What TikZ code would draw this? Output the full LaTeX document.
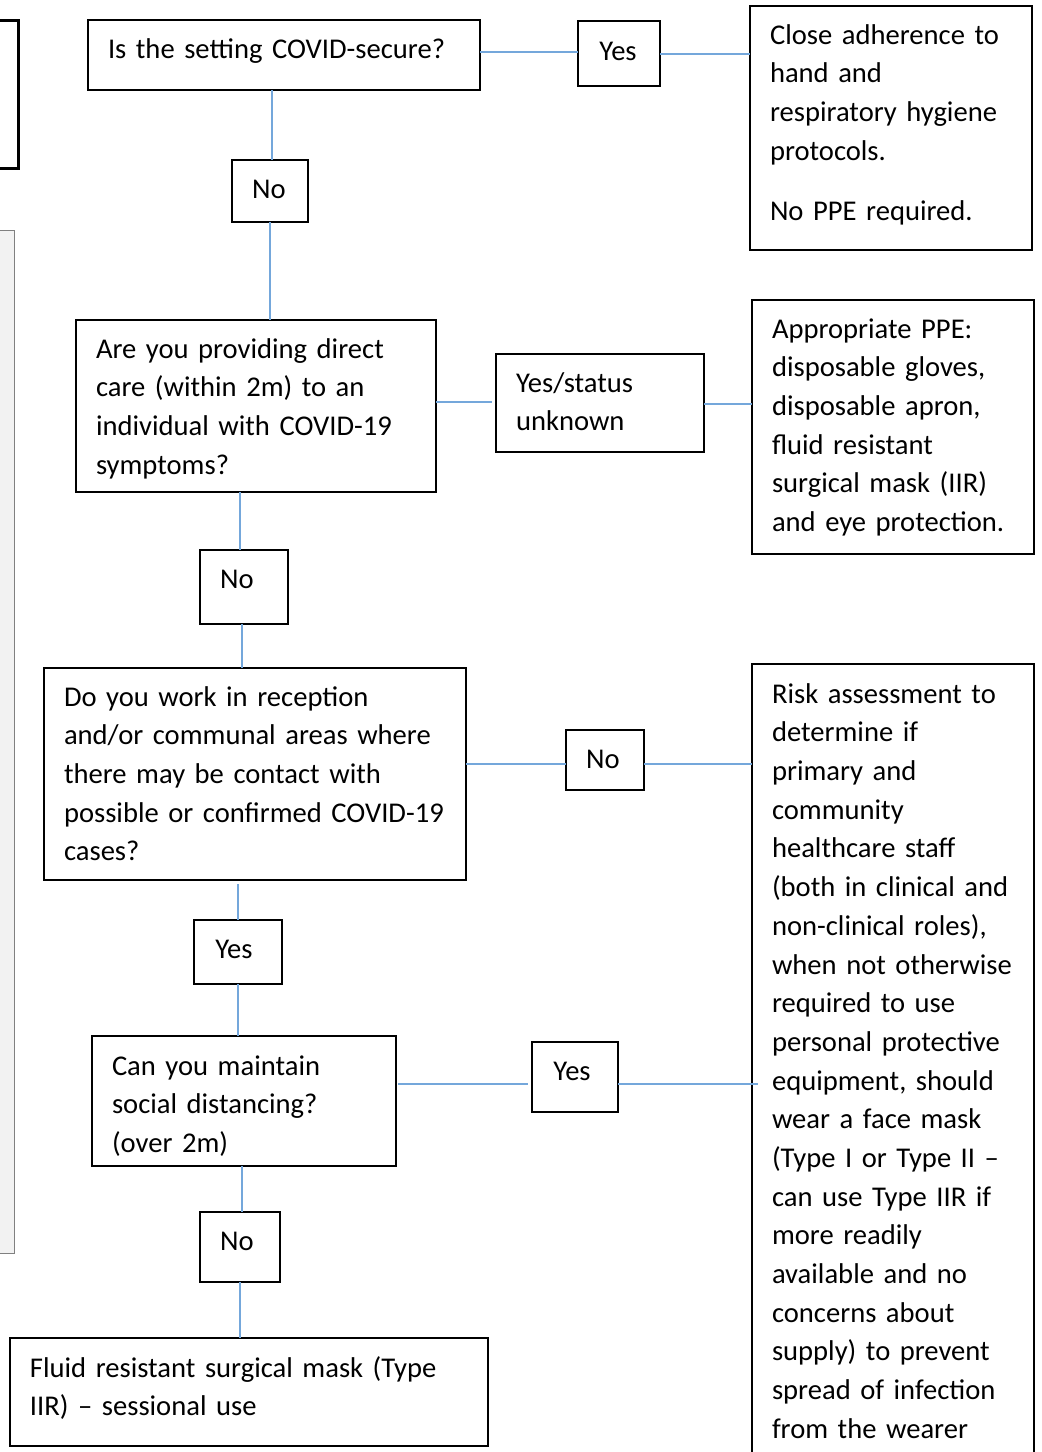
\documentclass[tikz,border=0pt]{standalone}
\usepackage{fontspec}
\setmainfont{Carlito}
\usetikzlibrary{calc}
\definecolor{conn}{HTML}{74A7DB}
\definecolor{greyfill}{HTML}{F2F2F2}
\begin{document}
\begin{tikzpicture}[x=1pt,y=-1pt,
  box/.style={draw=black, line width=1.3pt, inner sep=0pt, outer sep=0pt, anchor=north west},
  txt/.style={anchor=north west, inner sep=0pt, outer sep=0pt, align=left, font=\fontsize{28.6}{38.7}\selectfont, text width=#1},
  txt/.default=360pt,
  lbl/.style={anchor=base, inner sep=0pt, outer sep=0pt, font=\fontsize{28.6}{38.7}\selectfont},
  link/.style={draw=conn, line width=1.6pt}]
\useasboundingbox (0,0) rectangle (1042,1452);
\clip (0,0) rectangle (1042,1452);
\fill[white] (0,0) rectangle (1042,1452);
% partial shapes at left edge
\draw[line width=3pt, black] (-10,20) rectangle (18,168);
\draw[fill=greyfill, draw=gray, line width=1pt] (-10,230) rectangle (14,1253);
% boxes
\node[box, minimum width=392pt, minimum height=70pt] (q1) at (88,20) {};
\node[box, minimum width=82pt, minimum height=65pt] (yes1) at (578,21) {};
\node[box, minimum width=282pt, minimum height=244pt] (r1) at (750,6) {};
\node[box, minimum width=76pt, minimum height=62pt] (no1) at (232,160) {};
\node[box, minimum width=360pt, minimum height=172pt] (q2) at (76,320) {};
\node[box, minimum width=208pt, minimum height=98pt] (ys) at (496,354) {};
\node[box, minimum width=282pt, minimum height=254pt] (r2) at (752,300) {};
\node[box, minimum width=88pt, minimum height=74pt] (no2) at (200,550) {};
\node[box, minimum width=422pt, minimum height=212pt] (q3) at (44,668) {};
\node[box, minimum width=78pt, minimum height=60pt] (no3) at (566,730) {};
\node[box, minimum width=282pt, minimum height=840pt] (r3) at (752,664) {};
\node[box, minimum width=88pt, minimum height=64pt] (yes3) at (194,920) {};
\node[box, minimum width=304pt, minimum height=130pt] (q4) at (92,1036) {};
\node[box, minimum width=86pt, minimum height=70pt] (yes4) at (532,1042) {};
\node[box, minimum width=80pt, minimum height=70pt] (no4) at (200,1212) {};
\node[box, minimum width=478pt, minimum height=108pt] (r4) at (10,1338) {};
% texts
\node[txt] (tq1) at (108,31) {\strut Is the setting COVID-secure?};
\node[txt=280pt] (tr1) at (770,17) {\strut Close adherence to\\hand and\\respiratory hygiene\\protocols.\\[21.3pt]No PPE required.};
\node[txt] (tq2) at (96,331) {\strut Are you providing direct\\care (within 2m) to an\\individual with COVID-19\\symptoms?};
\node[txt=200pt] (tys) at (516,365) {\strut Yes/status\\unknown};
\node[txt=280pt] (tr2) at (772,311) {\strut Appropriate PPE:\\disposable gloves,\\disposable apron,\\fluid resistant\\surgical mask (IIR)\\and eye protection.};
\node[txt=420pt] (tq3) at (64,679) {\strut Do you work in reception\\and/or communal areas where\\there may be contact with\\possible or confirmed COVID-19\\cases?};
\node[txt=280pt] (tr3) at (772,676) {\strut Risk assessment to\\determine if\\primary and\\community\\healthcare staff\\(both in clinical and\\non-clinical roles),\\when not otherwise\\required to use\\personal protective\\equipment, should\\wear a face mask\\(Type I or Type II --\\can use Type IIR if\\more readily\\available and no\\concerns about\\supply) to prevent\\spread of infection\\from the wearer};
\node[txt=290pt] (tq4) at (112,1048) {\strut Can you maintain\\social distancing?\\(over 2m)};
\node[txt=460pt] (tr4) at (30,1350) {\strut Fluid resistant surgical mask (Type\\IIR) -- sessional use};
\node[lbl] (tyes1) at (618,60) {Yes};
\node[lbl] (tno1) at (269,198) {No};
\node[lbl] (tno2) at (237,588) {No};
\node[lbl] (tno3) at (603,768) {No};
\node[lbl] (tyes3) at (234,958) {Yes};
\node[lbl] (tyes4) at (572,1080) {Yes};
\node[lbl] (tno4) at (237,1250) {No};
% connectors
\draw[link] (q1.east |- 0,52) -- (yes1.west |- 0,52);
\draw[link] (yes1.east |- 0,54) -- (r1.west |- 0,54);
\draw[link] (q1.south -| 272,0) -- (no1.north -| 272,0);
\draw[link] (no1.south -| 270,0) -- (q2.north -| 270,0);
\draw[link] (q2.east |- 0,402) -- ($(ys.west |- 0,402)+(-4,0)$);
\draw[link] (ys.east |- 0,404) -- (r2.west |- 0,404);
\draw[link] (q2.south -| 240,0) -- (no2.north -| 240,0);
\draw[link] (no2.south -| 242,0) -- (q3.north -| 242,0);
\draw[link] (q3.east |- 0,764) -- (no3.west |- 0,764);
\draw[link] (no3.east |- 0,764) -- (r3.west |- 0,764);
\draw[link] ($(q3.south -| 238,0)+(0,4)$) -- (yes3.north -| 238,0);
\draw[link] (yes3.south -| 238,0) -- (q4.north -| 238,0);
\draw[link] ($(q4.east |- 0,1084)+(2,0)$) -- ($(yes4.west |- 0,1084)+(-4,0)$);
\draw[link] (yes4.east |- 0,1084) -- ($(r3.west |- 0,1084)+(6,0)$);
\draw[link] (q4.south -| 242,0) -- (no4.north -| 242,0);
\draw[link] (no4.south -| 240,0) -- (r4.north -| 240,0);
\end{tikzpicture}
\end{document}
